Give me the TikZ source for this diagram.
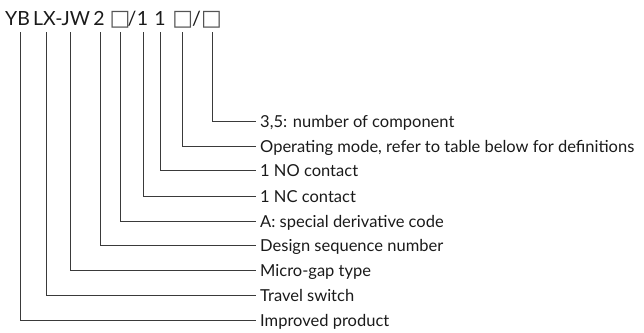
\documentclass[tikz,border=0pt]{standalone}
\usepackage{fontspec}
\setmainfont{Lato}
\newfontfamily\symf{DejaVu Sans}
\definecolor{txt}{HTML}{1A1A1A}
\definecolor{ln}{HTML}{3A3A3A}
\begin{document}
\begin{tikzpicture}[x=1pt,y=-1pt,
  lbl/.style={anchor=west,inner ysep=0pt,inner xsep=4pt,text height=12.5pt,text depth=0pt,font=\fontsize{16.5}{20}\selectfont,text=txt},
  ttl/.style={anchor=base,inner sep=0pt,font=\fontsize{19.5}{24}\selectfont,text=txt},
  sq/.style={anchor=base,inner sep=0pt,font=\symf\fontsize{22}{24}\selectfont,text=txt!75},
  conn/.style={draw=ln,line width=0.9pt}]
\useasboundingbox (0,0) rectangle (644,332);
% title pieces
\node[ttl] (p1) at (17.5,25) {YB};
\node[ttl] (p2) at (61.5,25) {LX-JW};
\node[ttl] (p3) at (99,25) {2};
\node[sq]  (p4) at (120,25.5) {□};
\node[ttl] (p5) at (132,25) {/};
\node[ttl] (p6) at (142.5,25) {1};
\node[ttl] (p7) at (160,25) {1};
\node[sq]  (p8) at (182.7,25.5) {□};
\node[ttl] (p9) at (196.5,25) {/};
\node[sq]  (p10) at (211.5,25.5) {□};
% top ends of leader lines
\coordinate (t1) at (212.7,32);
\coordinate (t2) at (182.7,32);
\coordinate (t3) at (160,32);
\coordinate (t4) at (143.3,32);
\coordinate (t5) at (120,32);
\coordinate (t6) at (100,32);
\coordinate (t7) at (70.7,32);
\coordinate (t8) at (46.7,32);
\coordinate (t9) at (20.7,32);
% labels
\node[lbl] (l1) at (256,121) {3,5: number of component};
\node[lbl] (l2) at (256,146) {Operating mode, refer to table below for definitions};
\node[lbl] (l3) at (256,170.5) {1 NO contact};
\node[lbl] (l4) at (256,196) {1 NC contact};
\node[lbl] (l5) at (256,221) {A: special derivative code};
\node[lbl] (l6) at (256,245.5) {Design sequence number};
\node[lbl] (l7) at (256,270) {Micro-gap type};
\node[lbl] (l8) at (256,295) {Travel switch};
\node[lbl] (l9) at (256,320) {Improved product};
\foreach \i in {1,...,9}{\draw[conn] (t\i) |- (l\i.west);}
\end{tikzpicture}
\end{document}
